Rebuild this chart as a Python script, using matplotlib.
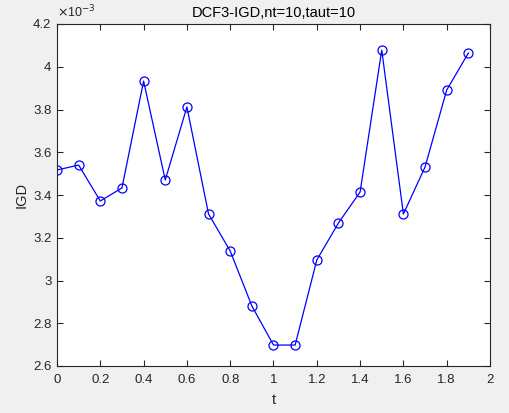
import matplotlib
matplotlib.use("Agg")
import matplotlib.pyplot as plt

# IGD values (x 10^-3)
t = [0, 0.1, 0.2, 0.3, 0.4, 0.5, 0.6, 0.7, 0.8, 0.9,
     1.0, 1.1, 1.2, 1.3, 1.4, 1.5, 1.6, 1.7, 1.8, 1.9]
igd = [3.517, 3.540, 3.372, 3.433, 3.933, 3.470, 3.812, 3.311, 3.138, 2.881,
       2.698, 2.698, 3.096, 3.269, 3.414, 4.078, 3.311, 3.531, 3.891, 4.064]
xticks = [0, 0.2, 0.4, 0.6, 0.8, 1, 1.2, 1.4, 1.6, 1.8, 2]
yticks = [2.6, 2.8, 3, 3.2, 3.4, 3.6, 3.8, 4, 4.2]

plt.rcParams["font.family"] = ["Liberation Sans", "DejaVu Sans"]
dark = "#262626"

fig = plt.figure(figsize=(5.1, 4.13), dpi=100, facecolor="#f0f0f0")
ax = fig.add_axes([57 / 510, 47 / 413, 433 / 510, 342 / 413])

ax.plot(t, igd, color="blue", linewidth=0.9, marker="o", markersize=6.5,
        markerfacecolor="none", markeredgecolor="blue", markeredgewidth=0.9)

ax.set_xlim(0, 2)
ax.set_ylim(2.6, 4.2)
ax.set_xticks(xticks)
ax.set_xticklabels([f"{v:g}" for v in xticks])
ax.set_yticks(yticks)
ax.set_yticklabels([f"{v:g}" for v in yticks])

ax.tick_params(direction="in", length=4, width=0.8, colors=dark, labelsize=9.5,
               top=True, right=True, labeltop=False, labelright=False)
ax.tick_params(axis="x", pad=6)
ax.tick_params(axis="y", pad=4)
for s in ax.spines.values():
    s.set_color(dark)
    s.set_linewidth(0.8)

ax.set_title("DCF3-IGD,nt=10,taut=10", fontsize=10.5, color="black", pad=5)
ax.set_xlabel("t", fontsize=10.5, color=dark, labelpad=5)
ax.set_ylabel("IGD", fontsize=10.5, color=dark, labelpad=3)
ax.text(0, 1.01, r"$\times$10$^{-3}$", transform=ax.transAxes, fontsize=9,
        color=dark, ha="left", va="bottom")

fig.savefig("out.png", dpi=100, facecolor=fig.get_facecolor())
